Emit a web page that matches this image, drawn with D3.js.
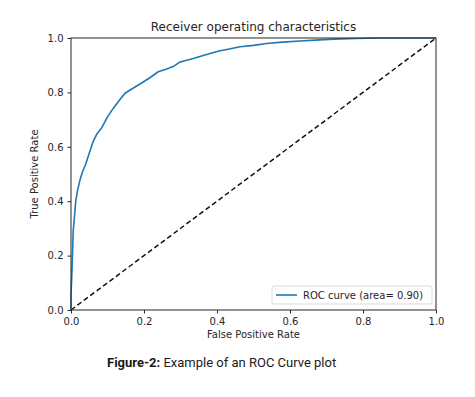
<!DOCTYPE html>
<html lang="en">
<head>
  <meta charset="UTF-8">
  <title>ROC curve</title>
  <style>
    body { margin: 0; background: #fff; }
    svg { display: block; }
    .tick text { font-family: 'DejaVu Sans', sans-serif; font-size: 10px; fill: #262626; }
  </style>
</head>
<body>
<div class="demo"></div>
<script src="https://d3js.org/d3.v7.min.js"></script>
<script>
  // values
  let fpr = [0, 0, 0.002, 0.004, 0.006, 0.01, 0.013, 0.018, 0.025, 0.032, 0.04, 0.052, 0.061, 0.07, 0.084,
    0.1, 0.116, 0.132, 0.148, 0.162, 0.189, 0.215, 0.239, 0.26, 0.28, 0.299, 0.335, 0.36, 0.381, 0.408,
    0.427, 0.463, 0.5, 0.536, 0.58, 0.627, 0.68, 0.72, 0.78, 0.84, 1.0]
  let tpr = [0, 0.06, 0.12, 0.2, 0.29, 0.35, 0.4, 0.44, 0.48, 0.51, 0.535, 0.585, 0.62, 0.645, 0.67,
    0.71, 0.742, 0.77, 0.797, 0.809, 0.831, 0.853, 0.876, 0.885, 0.895, 0.912, 0.925, 0.935, 0.943, 0.953,
    0.958, 0.968, 0.973, 0.98, 0.985, 0.989, 0.993, 0.996, 0.998, 1.0, 1.0]
  let chance = [0, 1]
  let ticks = [0, 0.2, 0.4, 0.6, 0.8, 1.0]
  let legendLabel = 'ROC curve (area= 0.90)'

  let svg = d3.select('.demo').append('svg')
    .attr('width', 475)
    .attr('height', 397)

  let x = d3.scaleLinear().domain([0, 1]).range([71, 436])
  let y = d3.scaleLinear().domain([0, 1]).range([310, 38])

  // axes
  svg.append('g')
    .attr('transform', 'translate(0,310)')
    .call(d3.axisBottom(x).tickValues(ticks).tickFormat(d3.format('.1f')).tickSize(3.5).tickPadding(4))
    .call(g => g.select('.domain').remove())
    .selectAll('line').attr('stroke', '#262626')

  svg.append('g')
    .attr('transform', 'translate(71,0)')
    .call(d3.axisLeft(y).tickValues(ticks).tickFormat(d3.format('.1f')).tickSize(3.5).tickPadding(4))
    .call(g => g.select('.domain').remove())
    .selectAll('line').attr('stroke', '#262626')

  // chance line
  svg.append('path')
    .datum(chance)
    .attr('d', d3.line().x(d => x(d)).y(d => y(d)))
    .attr('stroke', '#111')
    .attr('stroke-width', 1.5)
    .attr('stroke-dasharray', '5,3')
    .attr('fill', 'none')

  // roc curve
  svg.append('path')
    .datum(d3.zip(fpr, tpr))
    .attr('d', d3.line().x(d => x(d[0])).y(d => y(d[1])))
    .attr('stroke', '#1f77b4')
    .attr('stroke-width', 1.6)
    .attr('stroke-linejoin', 'round')
    .attr('fill', 'none')

  // frame
  svg.append('rect')
    .attr('x', x(0)).attr('y', y(1))
    .attr('width', x(1) - x(0)).attr('height', y(0) - y(1))
    .attr('fill', 'none')
    .attr('stroke', '#262626')
    .attr('stroke-width', 1)

  // legend
  let lg = svg.append('g').attr('transform', 'translate(272,286)')
  lg.append('rect')
    .attr('width', 160).attr('height', 18).attr('rx', 2)
    .attr('fill', '#fff').attr('stroke', '#d9d9d9')
  lg.append('line')
    .attr('x1', 4).attr('x2', 25).attr('y1', 9).attr('y2', 9)
    .attr('stroke', '#1f77b4').attr('stroke-width', 1.6)
  lg.append('text')
    .attr('x', 31).attr('y', 12.5)
    .attr('font-family', 'DejaVu Sans, sans-serif').attr('font-size', 10).attr('fill', '#262626')
    .text(legendLabel)

  // labels
  svg.append('text')
    .attr('x', (x(0) + x(1)) / 2).attr('y', 31)
    .attr('text-anchor', 'middle')
    .attr('font-family', 'DejaVu Sans, sans-serif').attr('font-size', 12).attr('fill', '#262626')
    .text('Receiver operating characteristics')

  svg.append('text')
    .attr('x', (x(0) + x(1)) / 2).attr('y', 338)
    .attr('text-anchor', 'middle')
    .attr('font-family', 'DejaVu Sans, sans-serif').attr('font-size', 10).attr('fill', '#262626')
    .text('False Positive Rate')

  svg.append('text')
    .attr('transform', 'translate(38,' + (y(0) + y(1)) / 2 + ') rotate(-90)')
    .attr('text-anchor', 'middle')
    .attr('font-family', 'DejaVu Sans, sans-serif').attr('font-size', 10).attr('fill', '#262626')
    .text('True Positive Rate')

  // caption
  let cap = svg.append('text')
    .attr('x', 107).attr('y', 367)
    .attr('font-family', 'Roboto, sans-serif').attr('font-size', 13).attr('fill', '#1a1a1a')
  cap.append('tspan').attr('font-weight', 'bold').text('Figure-2:')
  cap.append('tspan').text(' Example of an ROC Curve plot')
</script>
</body>
</html>
